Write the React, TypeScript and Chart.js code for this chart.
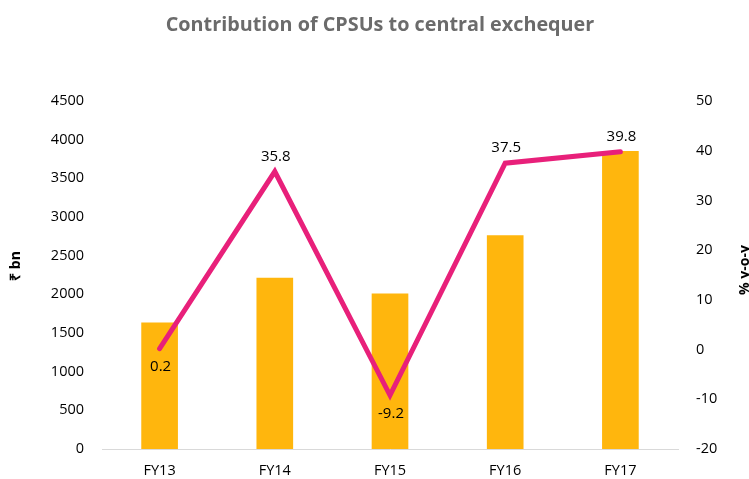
import React, { useEffect, useRef } from "react";
import { Chart, registerables } from "chart.js";

Chart.register(...registerables);

const categories = ["FY13", "FY14", "FY15", "FY16", "FY17"];
const contribution = [1630, 2210, 2005, 2760, 3850];
const growth = [0.2, 35.8, -9.2, 37.5, 39.8];
const growthLabelSide = ["below", "above", "below", "above", "above"];
const leftTicks = { min: 0, max: 4500, step: 500 };
const rightTicks = { min: -20, max: 50, step: 10 };
const titleText = "Contribution of CPSUs to central exchequer";
const leftTitle = "₹ bn";
const rightTitle = "% y-o-y";

const FONT = "'Open Sans', 'Liberation Sans', sans-serif";

const textPlugin = {
  id: "textPlugin",
  afterDraw(chart: any) {
    const ctx = chart.ctx;
    const w = chart.width;
    ctx.save();
    ctx.fillStyle = "#6b6b6b";
    ctx.font = `bold 19.8px ${FONT}`;
    ctx.textAlign = "center";
    ctx.textBaseline = "middle";
    ctx.fillText(titleText, 380, 25);
    ctx.fillStyle = "#000";
    ctx.font = `bold 14px ${FONT}`;
    ctx.save();
    ctx.translate(16, 266);
    ctx.rotate(-Math.PI / 2);
    ctx.fillText(leftTitle, 0, 0);
    ctx.restore();
    ctx.save();
    ctx.translate(w - 4, 270);
    ctx.rotate(-Math.PI / 2);
    ctx.fillText(rightTitle, 0, 0);
    ctx.restore();
    const meta = chart.getDatasetMeta(1);
    ctx.font = `15px ${FONT}`;
    ctx.fillStyle = "#000";
    meta.data.forEach((pt: any, i: number) => {
      const below = growthLabelSide[i] === "below";
      ctx.fillText(String(growth[i]), pt.x + 1, below ? pt.y + 18 : pt.y - 15);
    });
    ctx.restore();
  },
};

export default function App() {
  const ref = useRef<HTMLCanvasElement>(null);
  useEffect(() => {
    document.body.style.margin = "0";
    const chart = new Chart(ref.current!, {
      type: "bar",
      data: {
        labels: categories,
        datasets: [
          {
            type: "bar",
            data: contribution,
            backgroundColor: "#FFB60D",
            yAxisID: "y",
            barThickness: 36,
            order: 1,
          },
          {
            type: "line",
            data: growth,
            borderColor: "#E8207A",
            borderWidth: 5,
            pointRadius: 0,
            borderCapStyle: "round",
            borderJoinStyle: "miter",
            yAxisID: "y1",
            order: 0,
          } as any,
        ],
      },
      options: {
        animation: false,
        responsive: false,
        maintainAspectRatio: false,
        layout: { padding: { top: 101, bottom: 0, left: 0, right: 0 } },
        plugins: { legend: { display: false }, tooltip: { enabled: false }, title: { display: false } },
        scales: {
          x: {
            grid: { display: false, drawTicks: false },
            border: { display: true, color: "#d9d9d9", width: 1 },
            ticks: { color: "#000", font: { family: FONT, size: 14.5 }, padding: 13 },
            afterFit: (s: any) => { s.height = 30; },
          },
          y: {
            position: "left",
            min: leftTicks.min,
            max: leftTicks.max,
            grid: { display: false, drawTicks: false },
            border: { display: false },
            ticks: {
              stepSize: leftTicks.step,
              color: "#000",
              font: { family: FONT, size: 14.5 },
              padding: 18,
              callback: (v: any) => String(v),
            },
            afterFit: (s: any) => { s.width = 102; },
          },
          y1: {
            position: "right",
            min: rightTicks.min,
            max: rightTicks.max,
            grid: { display: false, drawTicks: false },
            border: { display: false },
            ticks: {
              stepSize: rightTicks.step,
              color: "#000",
              font: { family: FONT, size: 14.5 },
              padding: 18,
              callback: (v: any) => String(v),
            },
            afterFit: (s: any) => { s.width = 71; },
          },
        },
      },
      plugins: [textPlugin],
    });
    return () => chart.destroy();
  }, []);
  return (
    <div style={{ width: 749, height: 479 }}>
      <canvas ref={ref} width={749} height={479} style={{ display: "block" }} />
    </div>
  );
}
